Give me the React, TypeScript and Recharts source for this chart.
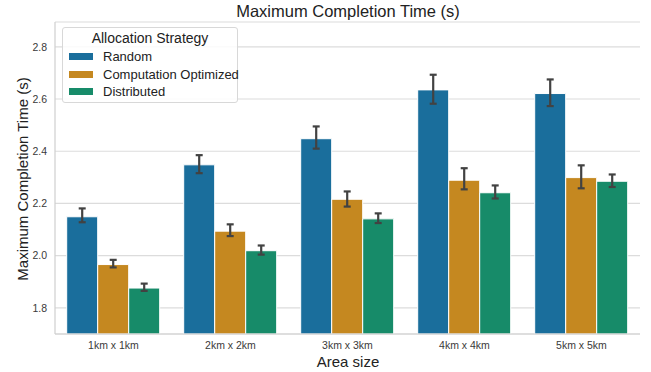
import { Bar, BarChart, CartesianGrid, ErrorBar, XAxis, YAxis } from 'recharts';

const AREAS = ['1km x 1km', '2km x 2km', '3km x 3km', '4km x 4km', '5km x 5km'];

const RANDOM = [2.149, 2.348, 2.448, 2.635, 2.621];
const RANDOM_LO = [2.128, 2.316, 2.41, 2.582, 2.573];
const RANDOM_HI = [2.181, 2.385, 2.495, 2.693, 2.675];

const COMP = [1.966, 2.094, 2.216, 2.289, 2.299];
const COMP_LO = [1.955, 2.075, 2.188, 2.254, 2.258];
const COMP_HI = [1.984, 2.12, 2.246, 2.335, 2.346];

const DIST = [1.876, 2.019, 2.141, 2.241, 2.285];
const DIST_LO = [1.865, 2.004, 2.125, 2.219, 2.263];
const DIST_HI = [1.893, 2.039, 2.162, 2.269, 2.311];

const Y_TICKS = [1.8, 2.0, 2.2, 2.4, 2.6, 2.8];

const SERIES = [
  { key: 'random', name: 'Random', color: '#1a6e9c' },
  { key: 'comp', name: 'Computation Optimized', color: '#c58820' },
  { key: 'dist', name: 'Distributed', color: '#178b69' },
];

// error deltas as [below, above] for recharts ErrorBar
const data = AREAS.map((area, i) => ({
  area,
  random: RANDOM[i],
  randomErr: [RANDOM[i] - RANDOM_LO[i], RANDOM_HI[i] - RANDOM[i]],
  comp: COMP[i],
  compErr: [COMP[i] - COMP_LO[i], COMP_HI[i] - COMP[i]],
  dist: DIST[i],
  distErr: [DIST[i] - DIST_LO[i], DIST_HI[i] - DIST[i]],
}));

const FONT = '"Liberation Sans", Arial, sans-serif';
const FRAME = '#cfcfcf';
const TICK = { fill: '#3a3a3a', fontSize: 10.5, fontFamily: FONT } as const;

function LegendBox() {
  return (
    <div
      style={{
        position: 'absolute',
        left: 62,
        top: 27,
        width: 176,
        height: 76,
        boxSizing: 'border-box',
        border: '1px solid #d8d8d8',
        borderRadius: 3,
        background: 'rgba(255,255,255,0.85)',
        fontFamily: FONT,
        color: '#222',
        whiteSpace: 'nowrap',
      }}
    >
      <div style={{ textAlign: 'center', fontSize: 14, lineHeight: '17px', marginTop: 2, marginBottom: 1 }}>
        Allocation Strategy
      </div>
      {SERIES.map((s) => (
        <div key={s.key} style={{ display: 'flex', alignItems: 'center', height: 17.5, fontSize: 13 }}>
          <span style={{ flex: 'none', width: 24, height: 7, background: s.color, marginLeft: 6, marginRight: 10 }} />
          <span>{s.name}</span>
        </div>
      ))}
    </div>
  );
}

// title and axis titles, drawn over the chart
function Titles() {
  return (
    <svg width={651} height={372} style={{ position: 'absolute', left: 0, top: 0, pointerEvents: 'none' }}>
      <text x={348} y={17} textAnchor="middle" fontSize={16.5} fill="#222" fontFamily={FONT}>
        Maximum Completion Time (s)
      </text>
      <text x={348} y={367} textAnchor="middle" fontSize={15} fill="#222" fontFamily={FONT}>
        Area size
      </text>
      <g transform="translate(22 179) rotate(-90)">
        <text x={0} y={0} textAnchor="middle" dominantBaseline="central" fontSize={15} fill="#222" fontFamily={FONT}>
          Maximum Completion Time (s)
        </text>
      </g>
    </svg>
  );
}

export default function App() {
  return (
    <div style={{ position: 'absolute', left: 0, top: 0, width: 651, height: 372, background: '#fff' }}>
      <BarChart
        width={651}
        height={372}
        data={data}
        margin={{ top: 22, right: 11, bottom: 0, left: 0 }}
        barCategoryGap="10%"
        barGap={0}
      >
        <CartesianGrid vertical={false} stroke="#dcdcdc" strokeWidth={1.2} />
        <XAxis
          dataKey="area"
          tick={TICK}
          tickLine={false}
          axisLine={{ stroke: FRAME, strokeWidth: 1.2 }}
          height={38}
          tickMargin={2}
        />
        <XAxis xAxisId="top" orientation="top" dataKey="area" height={0} tick={false} tickLine={false} axisLine={{ stroke: FRAME, strokeWidth: 1.2 }} />
        <YAxis
          domain={[1.7, 2.895]}
          allowDataOverflow
          ticks={Y_TICKS}
          tickFormatter={(v: number) => v.toFixed(1)}
          tick={TICK}
          tickLine={false}
          axisLine={{ stroke: FRAME, strokeWidth: 1.2 }}
          width={55}
          tickMargin={2}
        />
        <YAxis yAxisId="right" orientation="right" width={0} tick={false} tickLine={false} axisLine={{ stroke: FRAME, strokeWidth: 1.2 }} />
        {SERIES.map((s) => (
          <Bar key={s.key} dataKey={s.key} name={s.name} fill={s.color} stroke="#fff" strokeWidth={1} isAnimationActive={false}>
            <ErrorBar dataKey={`${s.key}Err`} width={3.5} stroke="#424242" strokeWidth={2.2} isAnimationActive={false} />
          </Bar>
        ))}
      </BarChart>
      <Titles />
      <LegendBox />
    </div>
  );
}
